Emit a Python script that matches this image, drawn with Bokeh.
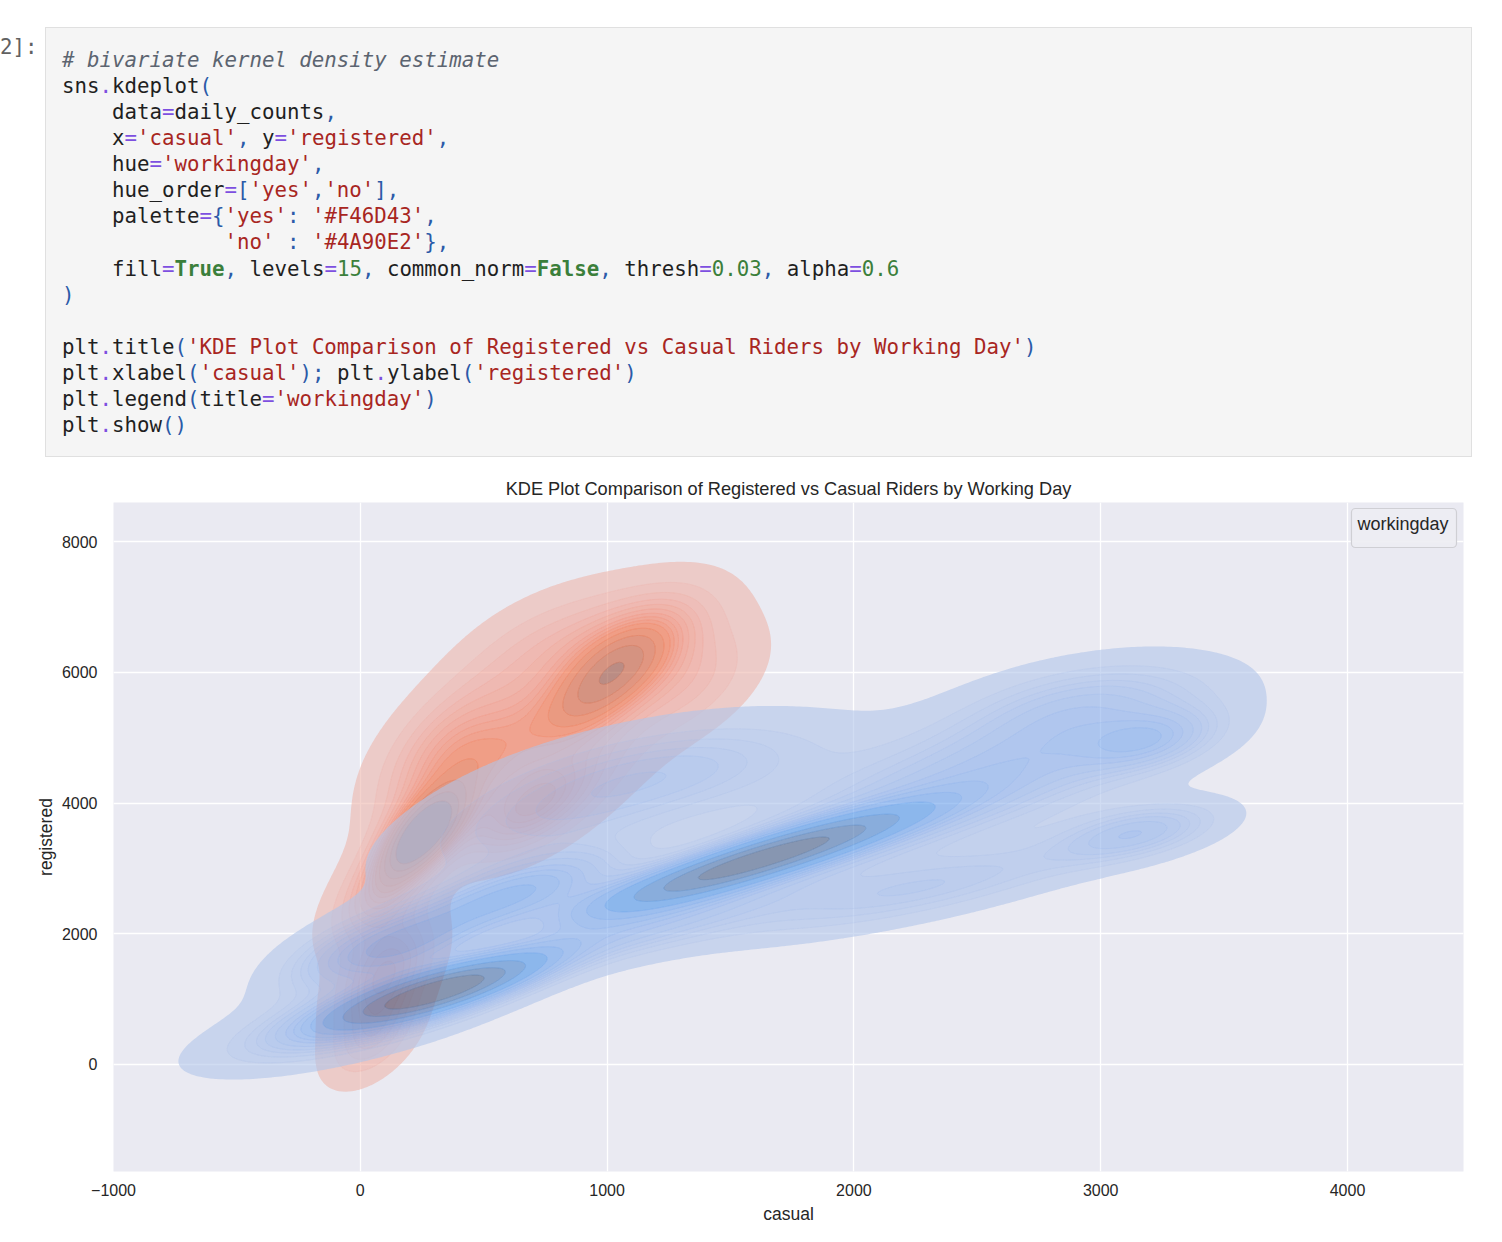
import html
import math
import numpy as np
from bokeh.plotting import figure
from bokeh.models import Div, Label, Range1d, FixedTicker
from bokeh.layouts import column
from bokeh.embed import file_html
from bokeh.resources import INLINE

# ---------------------------------------------------------------- texts
TITLE = "KDE Plot Comparison of Registered vs Casual Riders by Working Day"
X_LABEL = "casual"
Y_LABEL = "registered"
LEGEND_TITLE = "workingday"
PROMPT = "2]:"

HUE_ORDER = ["yes", "no"]
PALETTE = {"yes": "#F46D43", "no": "#4A90E2"}
N_LEVELS = 15
THRESH = 0.03
ALPHA = 0.6

X_TICKS = [-1000, 0, 1000, 2000, 3000, 4000]
Y_TICKS = [0, 2000, 4000, 6000, 8000]
X_LIMITS = [-1000, 4470]
Y_LIMITS = [-1637, 8597]

# ------------------------------------------------ density shape
# workingday == "yes" : centre x, centre y, spread x, spread y, correlation, weight
yes_cx = [950, 1070, 1100, 700, 1350, 580, 255, 350, 690, 100, 100, 50, 900, 330]
yes_cy = [5650, 6150, 6500, 6300, 5800, 4900, 3530, 4200, 3880, 2700, 1400, 400, 4600, 5000]
yes_sx = [170, 170, 250, 220, 180, 220, 110, 180, 180, 140, 130, 120, 230, 180]
yes_sy = [550, 550, 600, 600, 550, 650, 420, 600, 500, 550, 550, 450, 600, 650]
yes_rho = [0.6, 0.6, 0.4, 0.5, 0.5, 0.6, 0.6, 0.6, 0.6, 0.6, 0.5, 0.5, 0.6, 0.6]
yes_w = [0.08, 0.08, 0.10, 0.05, 0.04, 0.10, 0.10, 0.06, 0.08, 0.07, 0.07, 0.03, 0.05, 0.06]

# workingday == "no"
no_cx = [320, 180, 0, 620, 700, 1100, 1400, 1800, 1300, 2200, 2300, 2800, 2920, 3150, 3200,
         -50]
no_cy = [1130, 1820, 700, 2600, 3700, 2100, 2870, 3370, 4500, 3900, 2700, 4800, 5550, 3550,
         4950, 1700]
no_sx = [280, 220, 380, 280, 420, 450, 350, 350, 450, 500, 500, 450, 330, 220, 180, 220]
no_sy = [360, 380, 480, 420, 700, 500, 420, 420, 550, 800, 500, 720, 450, 300, 300, 450]
no_rho = [0.8, 0.6, 0.7, 0.7, 0.6, 0.8, 0.86, 0.86, 0.5, 0.7, 0.8, 0.55, 0.4, 0.5, 0.4, 0.6]
no_w = [0.12, 0.035, 0.06, 0.06, 0.06, 0.06, 0.09, 0.09, 0.07, 0.11, 0.05, 0.085, 0.035, 0.025,
        0.02, 0.025]

COMPONENTS = {
    "yes": (yes_cx, yes_cy, yes_sx, yes_sy, yes_rho, yes_w),
    "no": (no_cx, no_cy, no_sx, no_sy, no_rho, no_w),
}

# ---------------------------------------------------------------- code cell text
CODE_LINES = [
    [("# bivariate kernel density estimate", "com")],
    [("sns", "t"), (".", "op"), ("kdeplot", "t"), ("(", "pun")],
    [("    data", "t"), ("=", "op"), ("daily_counts", "t"), (",", "pun")],
    [("    x", "t"), ("=", "op"), ("'casual'", "str"), (",", "pun"), (" y", "t"), ("=", "op"),
     ("'registered'", "str"), (",", "pun")],
    [("    hue", "t"), ("=", "op"), ("'workingday'", "str"), (",", "pun")],
    [("    hue_order", "t"), ("=", "op"), ("[", "pun"), ("'yes'", "str"), (",", "pun"),
     ("'no'", "str"), ("]", "pun"), (",", "pun")],
    [("    palette", "t"), ("=", "op"), ("{", "pun"), ("'yes'", "str"), (":", "pun"), (" ", "t"),
     ("'#F46D43'", "str"), (",", "pun")],
    [("             ", "t"), ("'no'", "str"), (" ", "t"), (":", "pun"), (" ", "t"),
     ("'#4A90E2'", "str"), ("}", "pun"), (",", "pun")],
    [("    fill", "t"), ("=", "op"), ("True", "kw"), (",", "pun"), (" levels", "t"), ("=", "op"),
     ("15", "num"), (",", "pun"), (" common_norm", "t"), ("=", "op"), ("False", "kw"), (",", "pun"),
     (" thresh", "t"), ("=", "op"), ("0.03", "num"), (",", "pun"), (" alpha", "t"), ("=", "op"),
     ("0.6", "num")],
    [(")", "pun")],
    [],
    [("plt", "t"), (".", "op"), ("title", "t"), ("(", "pun"),
     ("'KDE Plot Comparison of Registered vs Casual Riders by Working Day'", "str"), (")", "pun")],
    [("plt", "t"), (".", "op"), ("xlabel", "t"), ("(", "pun"), ("'casual'", "str"), (")", "pun"),
     (";", "pun"), (" plt", "t"), (".", "op"), ("ylabel", "t"), ("(", "pun"), ("'registered'", "str"),
     (")", "pun")],
    [("plt", "t"), (".", "op"), ("legend", "t"), ("(", "pun"), ("title", "t"), ("=", "op"),
     ("'workingday'", "str"), (")", "pun")],
    [("plt", "t"), (".", "op"), ("show", "t"), ("(", "pun"), (")", "pun")],
]
TOKEN_STYLE = {
    "t": "color:#1f1f1f",
    "op": "color:#7d4fe0",
    "pun": "color:#2b5aa8",
    "str": "color:#a8261f",
    "num": "color:#3b7f3b",
    "kw": "color:#3b7f3b;font-weight:bold",
    "com": "color:#5c6470;font-style:italic",
}

# ---------------------------------------------------------------- HUSL (as seaborn)
_M = [[3.2406, -1.5372, -0.4986], [-0.9689, 1.8758, 0.0415], [0.0557, -0.2040, 1.0570]]
_MI = [[0.4124, 0.3576, 0.1805], [0.2126, 0.7152, 0.0722], [0.0193, 0.1192, 0.9505]]
_REFY, _REFU, _REFV = 1.0, 0.19784, 0.46834
_LAB_E, _LAB_K = 0.008856, 903.3


def _max_chroma(L, H):
    hr = math.radians(H)
    sh, ch = math.sin(hr), math.cos(hr)
    sub1 = (L + 16) ** 3 / 1560896.0
    sub2 = sub1 if sub1 > 0.008856 else L / 903.3
    res = float("inf")
    for m1, m2, m3 in _M:
        top = (0.99915 * m1 + 1.05122 * m2 + 1.14460 * m3) * sub2
        rb = 0.86330 * m3 - 0.17266 * m2
        lb = 0.12949 * m3 - 0.38848 * m1
        bottom = (rb * sh + lb * ch) * sub2
        for t in (0.0, 1.0):
            C = L * (top - 1.05122 * t) / (bottom + 0.17266 * sh * t)
            if 0.0 < C < res:
                res = C
    return res


def _f(t):
    return t ** (1.0 / 3.0) if t > _LAB_E else 7.787 * t + 16.0 / 116.0


def _f_inv(t):
    return t ** 3 if t ** 3 > _LAB_E else (116.0 * t - 16.0) / _LAB_K


def _to_lin(c):
    return ((c + 0.055) / 1.055) ** 2.4 if c > 0.04045 else c / 12.92


def _from_lin(c):
    return 12.92 * c if c <= 0.0031308 else 1.055 * c ** (1 / 2.4) - 0.055


def rgb_to_husl(r, g, b):
    rl = [_to_lin(c) for c in (r, g, b)]
    X, Y, Z = [sum(a * b for a, b in zip(row, rl)) for row in _MI]
    d = X + 15.0 * Y + 3.0 * Z
    vu, vv = 4.0 * X / d, 9.0 * Y / d
    L = 116.0 * _f(Y / _REFY) - 16.0
    U = 13.0 * L * (vu - _REFU)
    V = 13.0 * L * (vv - _REFV)
    C = math.hypot(U, V)
    H = math.degrees(math.atan2(V, U)) % 360.0
    S = C / _max_chroma(L, H) * 100.0
    return H, S, L


def husl_to_rgb(H, S, L):
    C = _max_chroma(L, H) / 100.0 * S
    hr = math.radians(H)
    U, V = math.cos(hr) * C, math.sin(hr) * C
    vy = _f_inv((L + 16.0) / 116.0)
    vu = U / (13.0 * L) + _REFU
    vv = V / (13.0 * L) + _REFV
    Y = vy * _REFY
    X = -(9.0 * Y * vu) / ((vu - 4.0) * vv - vu * vv)
    Z = (9.0 * Y - 15.0 * vv * Y - vv * X) / (3.0 * vv)
    return [_from_lin(sum(a * b for a, b in zip(row, (X, Y, Z)))) for row in _M]


def seaborn_ramp(hex_color):
    r, g, b = (int(hex_color[i:i + 2], 16) / 255.0 for i in (1, 3, 5))
    h, s, _ = rgb_to_husl(r, g, b)
    xx = np.linspace(-1, 1, int(1.15 * 256))[:256]
    ll = np.linspace(35, 80, 256)
    cols = np.clip([husl_to_rgb(h, s * math.cos(a), l) for a, l in zip(xx, ll)], 0, 1)
    return cols[::-1]


def to_hex(c):
    return "#%02x%02x%02x" % tuple(int(round(v * 255)) for v in c)


def cmap_lookup(ramp, t):
    i = int(np.clip(t * len(ramp), 0, len(ramp) - 1))
    return to_hex(ramp[i])


# ---------------------------------------------------------------- density
def mixture(X, Y, cx, cy, sx, sy, rho, w):
    Z = np.zeros_like(X)
    for mx, my, ax, ay, r, wk in zip(cx, cy, sx, sy, rho, w):
        dx = (X - mx) / ax
        dy = (Y - my) / ay
        q = (dx * dx - 2 * r * dx * dy + dy * dy) / (1 - r * r)
        Z += wk * np.exp(-0.5 * q) / (2 * np.pi * ax * ay * math.sqrt(1 - r * r))
    return Z


def quantile_to_level(d, q):
    vals = np.sort(d.ravel())[::-1]
    cum = np.cumsum(vals) / vals.sum()
    idx = np.searchsorted(cum, 1 - np.asarray(q))
    return np.take(vals, idx, mode="clip")


gx = np.linspace(X_LIMITS[0], X_LIMITS[1], 420)
gy = np.linspace(Y_LIMITS[0], Y_LIMITS[1], 420)
GX, GY = np.meshgrid(gx, gy)

# ---------------------------------------------------------------- figure
FONT = "Liberation Sans"
TXT = "#262626"

p = figure(width=1494, height=766, output_backend="svg", toolbar_location=None,
           x_range=Range1d(*X_LIMITS), y_range=Range1d(*Y_LIMITS),
           min_border_left=113, min_border_right=31, min_border_top=34, min_border_bottom=63,
           title=TITLE)
p.background_fill_color = "#EAEAF2"
p.border_fill_color = "white"
p.outline_line_color = None
p.title.align = "center"
p.title.text_font = FONT
p.title.text_font_size = "18.2px"
p.title.text_font_style = "normal"
p.title.text_color = TXT
p.title.standoff = 8

for ax in (p.xaxis[0], p.yaxis[0]):
    ax.axis_line_color = None
    ax.major_tick_line_color = None
    ax.minor_tick_line_color = None
    ax.major_tick_out = 0
    ax.major_tick_in = 0
    ax.major_label_text_font = FONT
    ax.major_label_text_font_size = "16px"
    ax.major_label_text_color = TXT
    ax.axis_label_text_font = FONT
    ax.axis_label_text_font_size = "17.5px"
    ax.axis_label_text_font_style = "normal"
    ax.axis_label_text_color = TXT
p.xaxis.ticker = FixedTicker(ticks=X_TICKS)
p.yaxis.ticker = FixedTicker(ticks=Y_TICKS)
p.xaxis.major_label_overrides = {t: str(t).replace("-", "\u2212") for t in X_TICKS}
p.xaxis.axis_label = X_LABEL
p.yaxis.axis_label = Y_LABEL
p.xaxis.major_label_standoff = 12
p.xaxis.axis_label_standoff = 5
p.yaxis.major_label_standoff = 16
p.yaxis.axis_label_standoff = 3
p.grid.grid_line_color = "white"
p.grid.grid_line_width = 1.3
p.xgrid.ticker = FixedTicker(ticks=X_TICKS)
p.ygrid.ticker = FixedTicker(ticks=Y_TICKS)

for key in HUE_ORDER:
    Z = mixture(GX, GY, *COMPONENTS[key])
    lv = quantile_to_level(Z, np.linspace(THRESH, 1, N_LEVELS))
    ramp = seaborn_ramp(PALETTE[key])
    vmin, vmax = lv[0], lv[-1]
    mids = (lv[:-1] + lv[1:]) / 2
    fills = [cmap_lookup(ramp, (m - vmin) / (vmax - vmin)) for m in mids]
    lines = [cmap_lookup(ramp, (v - vmin) / (vmax - vmin)) for v in lv]
    line_alpha = [0.0] + [0.5] * (len(lv) - 1)
    p.contour(gx, gy, Z, list(lv), fill_color=fills, fill_alpha=ALPHA,
              line_color=lines, line_alpha=line_alpha, line_width=0.7)

# padding order: (left, right, top, bottom)
legend = Label(x=X_LIMITS[1], y=Y_LIMITS[1], x_offset=-7, y_offset=-6, anchor="top_right",
               text=LEGEND_TITLE, text_font=FONT, text_font_size="18px", text_color=TXT,
               background_fill_color="#EDEDF3", background_fill_alpha=0.9,
               border_line_color="#CFCFD4", border_line_width=1.2, border_radius=4,
               padding=(6, 8, 5, 14))
p.add_layout(legend)

# ---------------------------------------------------------------- code cell
MONO = "'DejaVu Sans Mono', monospace"
rows = []
for line in CODE_LINES:
    rows.append("".join('<span style="%s">%s</span>' % (TOKEN_STYLE[k], html.escape(t))
                        for t, k in line))
code_html = "\n".join(rows)
cell = (
    '<div style="position:relative;width:1494px;height:468px;">'
    '<div style="position:absolute;left:0px;top:34px;font-family:%s;font-size:20.75px;'
    'line-height:26px;color:#616161;white-space:pre;">%s</div>'
    '<div style="position:absolute;left:45px;top:27px;width:1427px;height:430px;'
    'background:#f5f5f5;border:1px solid #e0e0e0;"></div>'
    '<pre style="position:absolute;left:62px;top:47px;margin:0;padding:0;font-family:%s;'
    'font-size:20.75px;line-height:26.07px;background:none;">%s</pre>'
    '</div>' % (MONO, html.escape(PROMPT), MONO, code_html)
)
div = Div(text=cell, width=1494, height=468, margin=0)

layout = column(div, p, spacing=0)
open("out.html", "w").write(file_html(layout, INLINE))
